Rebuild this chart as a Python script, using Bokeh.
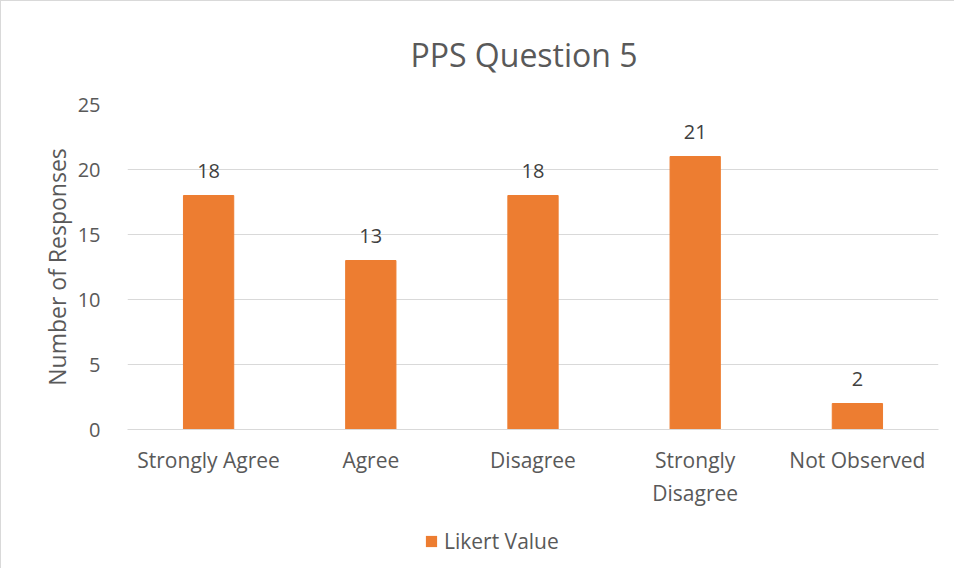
from bokeh.plotting import figure
from bokeh.models import ColumnDataSource, LabelSet, Legend, LegendItem, FixedTicker, Range1d
from bokeh.core.properties import value
from bokeh.layouts import column
from bokeh.embed import file_html
from bokeh.resources import INLINE

categories = ["Strongly Agree", "Agree", "Disagree", "Strongly\nDisagree", "Not Observed"]
values = [18, 13, 18, 21, 2]
y_ticks = [0, 5, 10, 15, 20, 25]
series_name = "Likert Value"

FONT = "Open Sans"
GREY = "#595959"
ORANGE = "#ED7D31"

src = ColumnDataSource(dict(cat=categories, val=values, lab=[str(v) for v in values]))

p = figure(x_range=categories, width=953, height=515, output_backend="svg",
           toolbar_location=None, min_border_left=126, min_border_right=16,
           min_border_top=102, min_border_bottom=87)
p.y_range = Range1d(0, 25)
p.title.text = "PPS Question 5"
p.title.align = "left"
p.title.text_font = FONT
p.title.text_font_size = "32px"
p.title.text_font_style = "normal"
p.title.text_color = GREY
p.title.offset = 283
p.title.standoff = 58

r = p.vbar(x="cat", top="val", width=0.31, source=src, color=ORANGE)

labels = LabelSet(x="cat", y="val", text="lab", source=src, y_offset=25,
                  text_align="center", text_baseline="middle",
                  text_font=value(FONT), text_font_size=value("20px"),
                  text_color="#404040")
p.add_layout(labels)

p.outline_line_color = None
p.xgrid.grid_line_color = None
p.ygrid.grid_line_color = "#D9D9D9"
p.ygrid.grid_line_width = 1

p.yaxis.ticker = FixedTicker(ticks=y_ticks)
p.yaxis.axis_line_color = None
p.yaxis.major_tick_line_color = None
p.yaxis.minor_tick_line_color = None
p.yaxis.major_label_standoff = 21
p.yaxis.major_label_text_font = FONT
p.yaxis.major_label_text_font_size = "20px"
p.yaxis.major_label_text_color = GREY
p.yaxis.axis_label = "Number of Responses"
p.yaxis.axis_label_text_font = FONT
p.yaxis.axis_label_text_font_size = "23px"
p.yaxis.axis_label_text_font_style = "normal"
p.yaxis.axis_label_text_color = GREY
p.yaxis.axis_label_standoff = 2

p.xaxis.axis_line_color = "#D9D9D9"
p.xaxis.major_tick_line_color = None
p.xaxis.minor_tick_line_color = None
p.xaxis.major_label_standoff = 10
p.xaxis.major_label_text_font = FONT
p.xaxis.major_label_text_font_size = "21px"
p.xaxis.major_label_text_color = GREY

# legend strip below the chart
p2 = figure(width=953, height=52, output_backend="svg", toolbar_location=None,
            x_range=Range1d(0, 1), y_range=Range1d(0, 1),
            min_border_left=126, min_border_right=16, min_border_top=0, min_border_bottom=0)
r2 = p2.vbar(x=[0.5], top=[0], bottom=[0], width=0.0, fill_color=ORANGE, line_color=None)
p2.axis.visible = False
p2.grid.grid_line_color = None
p2.outline_line_color = None
legend = Legend(items=[LegendItem(label=series_name, renderers=[r2])],
                location=(297, 13), orientation="horizontal",
                label_text_font=FONT, label_text_font_size="21px",
                label_text_color=GREY, glyph_width=14, glyph_height=14,
                label_standoff=6, border_line_color=None, background_fill_alpha=0,
                padding=0, margin=0)
p2.add_layout(legend, "center")

layout = column(p, p2, spacing=0)
layout.styles = {"border-top": "1px solid #D9D9D9", "border-left": "1px solid #D9D9D9"}

open("out.html", "w").write(file_html(layout, INLINE))
